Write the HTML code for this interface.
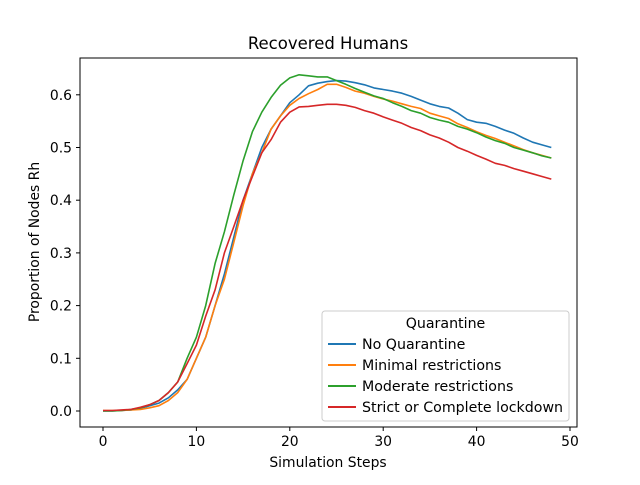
<!DOCTYPE html>
<html><head><meta charset="utf-8"><style>
body{margin:0;background:#fff}
svg{font-family:"DejaVu Sans","Liberation Sans",sans-serif}
</style></head><body>
<svg id="chart" width="640" height="480" viewBox="0 0 640 480">
<rect width="640" height="480" fill="#fff"/>
<text x="328" y="49" text-anchor="middle" font-size="16.5">Recovered Humans</text>
<g id="marks"></g>
<g id="axes"></g>
<rect x="80" y="58" width="497" height="369" fill="none" stroke="#000" stroke-width="1"/>
<text x="328" y="467" text-anchor="middle" font-size="13.9">Simulation Steps</text>
<text transform="translate(39,242) rotate(-90)" text-anchor="middle" font-size="13.9">Proportion of Nodes Rh</text>
<g id="legend"></g>
</svg>
<script>
const seriesNames=["No Quarantine","Minimal restrictions","Moderate restrictions","Strict or Complete lockdown"];
const colors=["#1f77b4","#ff7f0e","#2ca02c","#d62728"];
const xTicks=[0,10,20,30,40,50];
const yTicks=[0.0,0.1,0.2,0.3,0.4,0.5,0.6];
const blue=[0,0,0.001,0.002,0.005,0.01,0.015,0.025,0.04,0.06,0.1,0.14,0.2,0.26,0.33,0.4,0.45,0.5,0.535,0.56,0.585,0.6,0.617,0.622,0.625,0.627,0.626,0.623,0.619,0.613,0.61,0.607,0.603,0.597,0.59,0.583,0.578,0.575,0.565,0.553,0.548,0.546,0.54,0.533,0.527,0.518,0.51,0.505,0.5];
const orange=[0.001,0.001,0.001,0.002,0.003,0.006,0.01,0.02,0.035,0.06,0.1,0.14,0.2,0.25,0.32,0.39,0.45,0.49,0.535,0.56,0.58,0.593,0.602,0.61,0.62,0.62,0.614,0.607,0.603,0.597,0.592,0.588,0.583,0.578,0.574,0.565,0.56,0.555,0.545,0.538,0.53,0.523,0.517,0.51,0.503,0.496,0.49,0.485,0.48];
const green=[0,0,0.001,0.003,0.006,0.012,0.02,0.035,0.055,0.1,0.14,0.2,0.28,0.34,0.41,0.475,0.53,0.567,0.595,0.618,0.632,0.638,0.636,0.634,0.634,0.627,0.62,0.612,0.605,0.598,0.593,0.585,0.578,0.57,0.565,0.557,0.552,0.548,0.54,0.535,0.528,0.52,0.513,0.508,0.5,0.495,0.49,0.484,0.48];
const red=[0.001,0.001,0.002,0.003,0.007,0.012,0.02,0.035,0.055,0.09,0.125,0.18,0.23,0.3,0.35,0.4,0.445,0.49,0.515,0.548,0.567,0.577,0.578,0.58,0.582,0.582,0.58,0.576,0.57,0.565,0.558,0.552,0.546,0.538,0.532,0.524,0.518,0.51,0.5,0.493,0.485,0.478,0.47,0.466,0.46,0.455,0.45,0.445,0.44];
const allSeries=[blue,orange,green,red];
const NS="http://www.w3.org/2000/svg";
function xs(v){return 103+v*9.34;}
function ys(v){return 411-v*527;}
function mk(tag,attrs,parent){const e=document.createElementNS(NS,tag);for(const k in attrs)e.setAttribute(k,attrs[k]);parent.appendChild(e);return e;}
const axes=document.getElementById('axes');
xTicks.forEach(t=>{
 const l=mk('line',{x1:xs(t),x2:xs(t),y1:427,y2:431,stroke:'#000'},axes);
 
 
 const tx=mk('text',{x:xs(t),y:446,'text-anchor':'middle','font-size':'13.9'},axes);
 tx.textContent=t;
 
 
});
yTicks.forEach(t=>{
 const l=mk('line',{x1:76,x2:80,y1:ys(t),y2:ys(t),stroke:'#000'},axes);
 
 
 const tx=mk('text',{x:72,y:ys(t)+5,'text-anchor':'end','font-size':'13.9'},axes);
 tx.textContent=t.toFixed(1);
 
 
});
const marks=document.getElementById('marks');
allSeries.forEach((s,i)=>{
 const d=s.map((v,j)=>(j?'L':'M')+xs(j).toFixed(1)+','+ys(v).toFixed(1)).join('');
 const p=mk('path',{d:d,fill:'none',stroke:colors[i],'stroke-width':'1.6','stroke-linejoin':'round'},marks);
 
 
});
const lg=document.getElementById('legend');
const box=mk('rect',{x:322,y:311,width:247,height:110,rx:3,fill:'#fff','fill-opacity':'0.8',stroke:'#ccc'},lg);


const lt=mk('text',{x:445.5,y:328,'text-anchor':'middle','font-size':'14.2'},lg);
lt.textContent='Quarantine';


seriesNames.forEach((n,i)=>{
 const y=344+i*21;
 const g=mk('g',{},lg);
 
 
 mk('line',{x1:328,x2:356,y1:y,y2:y,stroke:colors[i],'stroke-width':'2'},g);
 const t=mk('text',{x:362,y:y+5,'font-size':'14.2'},g);
 t.textContent=n;
});
</script>
</body></html>
